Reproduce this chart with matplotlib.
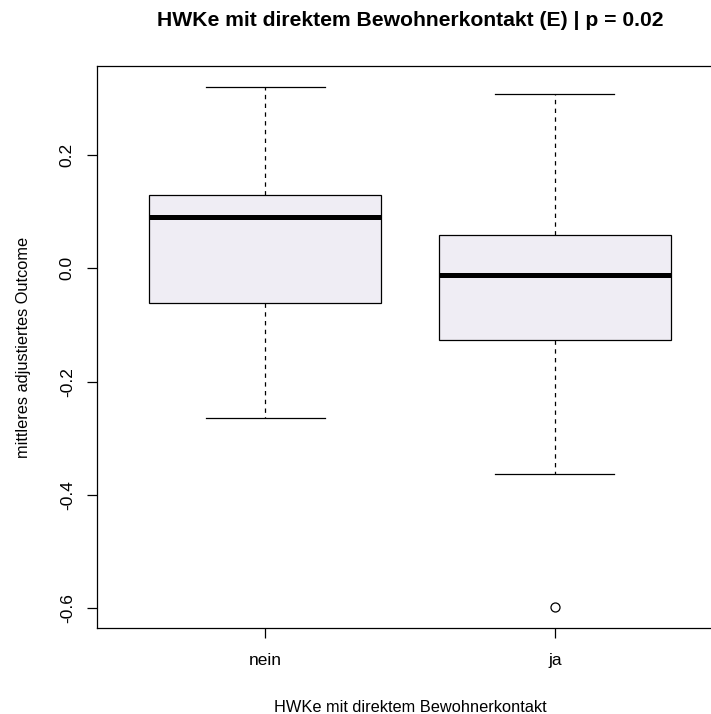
import matplotlib as mpl
import matplotlib.pyplot as plt

mpl.rcParams.update({'font.family': 'Liberation Sans'})

groups = ["nein", "ja"]
whislo = [-0.264, -0.363]
q1 = [-0.062, -0.126]
med = [0.090, -0.012]
q3 = [0.129, 0.058]
whishi = [0.320, 0.308]
fliers = [[], [-0.598]]

title = "HWKe mit direktem Bewohnerkontakt (E) | p = 0.02"
xlab = "HWKe mit direktem Bewohnerkontakt"
ylab = "mittleres adjustiertes Outcome"
yticks = [-0.6, -0.4, -0.2, 0.0, 0.2]


def main():
    fig = plt.figure(figsize=(7.11, 7.14), dpi=100)
    ax = fig.add_axes([97 / 711, 86 / 714, 626 / 711, 562 / 714])

    stats = []
    for i, g in enumerate(groups):
        stats.append({'label': g, 'whislo': whislo[i], 'q1': q1[i],
                      'med': med[i], 'q3': q3[i], 'whishi': whishi[i],
                      'fliers': fliers[i]})

    ax.bxp(stats, positions=[1, 2], widths=0.8, patch_artist=True,
           capwidths=0.41,
           boxprops=dict(facecolor='#efedf4', edgecolor='black',
                         linewidth=0.9),
           medianprops=dict(color='black', linewidth=3.6,
                            solid_capstyle='butt'),
           whiskerprops=dict(color='black', linewidth=0.9,
                             linestyle=(0, (3.5, 3.5))),
           capprops=dict(color='black', linewidth=0.9),
           flierprops=dict(marker='o', markerfacecolor='none',
                           markeredgecolor='black', markersize=6.5,
                           markeredgewidth=0.9))

    # R-style axis range: groups at 1..n, padded by 4 %
    ax.set_xlim(0.42, 2.58)
    lo = min(min(whislo), min(min(f) for f in fliers if f))
    hi = max(whishi)
    pad = (hi - lo) * 0.04
    ax.set_ylim(lo - pad, hi + pad)

    ax.set_yticks(yticks)
    ax.set_yticklabels(["{:.1f}".format(v) for v in yticks],
                       rotation=90, va='center')
    ax.set_xticks([1, 2])
    ax.set_xticklabels(groups)
    ax.tick_params(axis='both', which='both', direction='out', length=7,
                   width=0.9, labelsize=12.5, color='black')
    ax.tick_params(axis='x', pad=11)
    ax.tick_params(axis='y', pad=9)
    for s in ax.spines.values():
        s.set_linewidth(0.9)

    ax.set_xlabel(xlab, size=11.8, labelpad=23)
    ax.set_ylabel(ylab, size=11.8, labelpad=21)
    fig.text(410 / 711, 1 - 20 / 714, title, ha='center', va='center',
             size=15.2, weight='bold')

    fig.savefig("out.png", dpi=100)
    plt.close(fig)


if __name__ == '__main__':
    main()
